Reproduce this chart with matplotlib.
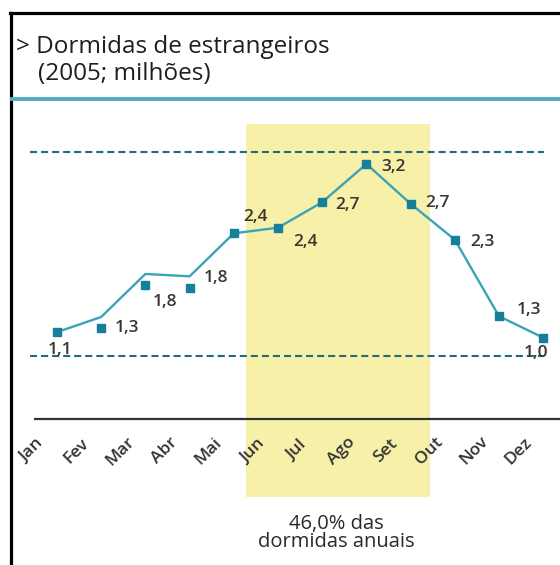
import matplotlib
matplotlib.use("Agg")
import matplotlib.pyplot as plt
from matplotlib.lines import Line2D
from matplotlib.patches import Rectangle

plt.rcParams['font.family'] = ['Open Sans', 'DejaVu Sans']

# ---- data ----
months = ["Jan", "Fev", "Mar", "Abr", "Mai", "Jun", "Jul", "Ago", "Set", "Out", "Nov", "Dez"]
labels = ["1,1", "1,3", "1,8", "1,8", "2,4", "2,4", "2,7", "3,2", "2,7", "2,3", "1,3", "1,0"]
marker_vals = [1.09, 1.14, 1.68, 1.64, 2.33, 2.40, 2.72, 3.20, 2.70, 2.25, 1.29, 1.02]
line_vals = [1.09, 1.28, 1.82, 1.79, 2.33, 2.40, 2.72, 3.20, 2.70, 2.25, 1.29, 1.02]
ref_levels = [3.35, 0.79]
band_range = (4.28, 8.44)  # Jun..Set highlight
band_note = "46,0% das\ndormidas anuais"
title_1 = "> Dormidas de estrangeiros"
title_2 = "(2005; milhões)"

# label offsets in pixels (dx, dy)
label_offsets = [(3, -18), (26, 0), (20, -17), (26, 10), (22, 16), (27, -14),
                 (25, -3), (27, -3), (27, 1), (28, -2), (30, 6), (-7, -15)]

W, H = 560, 565
fig = plt.figure(figsize=(W / 100, H / 100), dpi=100)
ax = fig.add_axes([0, 0, 1, 1])
ax.set_axis_off()
# x: px = 57 + 44.2*i ; y: py(from top) = 419 - 79.7*v
ax.set_xlim(-57 / 44.2, (W - 57) / 44.2)
ax.set_ylim(-(H - 419) / 79.7, 419 / 79.7)

x = list(range(len(months)))

# highlight band
ax.add_patch(Rectangle((band_range[0], -0.98), band_range[1] - band_range[0], 3.70 + 0.98,
                       facecolor="#f7f0a9", edgecolor="none", zorder=0))

# reference dashed lines
for lv in ref_levels:
    ax.plot([-0.61, 11.02], [lv, lv], color="#226a7c", lw=1.5,
            dashes=(3.4, 1.9), zorder=1)

# baseline axis
ax.plot([-0.52, 11.4], [0, 0], color="#333333", lw=1.6, zorder=1, solid_capstyle='butt')

# line + markers
ax.plot(x, line_vals, color="#3aa3b8", lw=1.7, zorder=2)
ax.plot(x, marker_vals, ls="none", marker="s", ms=5.8, color="#16809a", zorder=3)

# value labels
for xi, v, lab, (dx, dy) in zip(x, marker_vals, labels, label_offsets):
    ax.annotate(lab, (xi, v), xytext=(dx, dy), textcoords="offset pixels",
                ha="center", va="center", fontsize=12.5, fontweight="semibold",
                color="#3a3530", zorder=4)

# month tick labels
for xi, m in zip(x, months):
    ax.annotate(m, (xi, 0), xytext=(-25, -32), textcoords="offset pixels",
                ha="center", va="center", rotation=45, fontsize=12.5,
                fontweight="semibold", color="#333333")

# band note
ax.text(sum(band_range) / 2 - 0.05, -(533 - 419) / 79.7, band_note, ha="center", va="center",
        fontsize=14.5, linespacing=0.85, color="#2a2a2a")

# title
fig.text(16 / W, 1 - 53 / H, title_1, fontsize=17.5, color="#1e1e1e", va="baseline", ha="left")
fig.text(38 / W, 1 - 80 / H, title_2, fontsize=17.5, color="#1e1e1e", va="baseline", ha="left")

# frame and teal rule
fig.add_artist(Line2D([10.5 / W, 10.5 / W], [0, 1 - 12.5 / H], color="black", lw=2.3,
                      transform=fig.transFigure))
fig.add_artist(Line2D([9.5 / W, 1], [1 - 12.5 / H, 1 - 12.5 / H], color="black", lw=2.3,
                      transform=fig.transFigure))
fig.add_artist(Line2D([12 / W, 1], [1 - 98.5 / H, 1 - 98.5 / H], color="#52aac2", lw=2.8,
                      transform=fig.transFigure))

fig.savefig("out.png", dpi=100)
